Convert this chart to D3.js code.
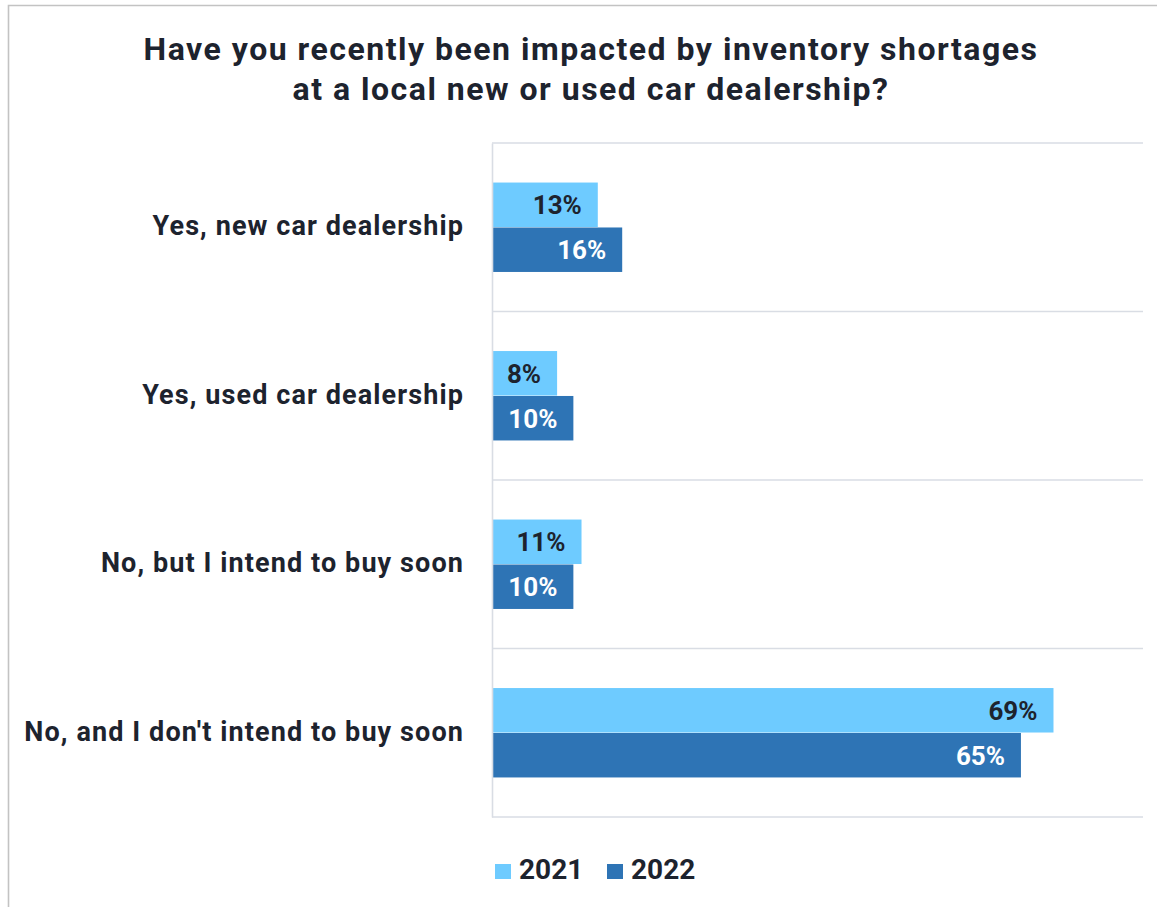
<!DOCTYPE html>
<html>
<head>
<meta charset="utf-8">
<script src="https://cdn.jsdelivr.net/npm/d3@7"></script>
<style>
  html, body { margin: 0; padding: 0; background: #ffffff; }
  svg { display: block; font-family: Roboto, "Noto Sans", sans-serif; }
</style>
</head>
<body>
<svg id="chart" width="1157" height="907"></svg>
<script>
// Survey answers and shares per year (percent)
const categories = [
  "Yes, new car dealership",
  "Yes, used car dealership",
  "No, but I intend to buy soon",
  "No, and I don't intend to buy soon"
];
const years = ["2021", "2022"];
const values2021 = [13, 8, 11, 69];
const values2022 = [16, 10, 10, 65];
const titleLines = [
  "Have you recently been impacted by inventory shortages",
  "at a local new or used car dealership?"
];

const colors = { "2021": "#6ecbff", "2022": "#2e74b5" };
const labelColors = { "2021": "#1d232e", "2022": "#ffffff" };
const textColor = "#1d232e";

const svg = d3.select("#chart");
const W = 1157, H = 907;

// outer frame
svg.append("path")
  .attr("d", `M8.5,${H} L8.5,5.5 L${W},5.5`)
  .attr("fill", "none")
  .attr("stroke", "#c3c3c3")
  .attr("stroke-width", 1.6);

// title
svg.append("g").selectAll("text")
  .data(titleLines)
  .join("text")
  .attr("x", 591)
  .attr("y", (d, i) => 60 + i * 40)
  .attr("text-anchor", "middle")
  .attr("font-size", 32)
  .attr("font-weight", 700)
  .attr("letter-spacing", 1.5)
  .attr("fill", textColor)
  .text(d => d);

const plot = { left: 492, right: 1143, top: 143, bottom: 817 };

const x = d3.scaleLinear().domain([0, 80]).range([plot.left, plot.right]);
const y = d3.scaleBand().domain(categories).range([plot.top, plot.bottom]).paddingInner(0).paddingOuter(0);
const inner = d3.scaleBand().domain(years).range([0, y.bandwidth()]).paddingInner(0.01).paddingOuter(0.88);

// category separators
const seps = d3.range(categories.length + 1).map(i => plot.top + i * y.bandwidth());
svg.append("g").selectAll("line")
  .data(seps)
  .join("line")
  .attr("x1", plot.left).attr("x2", plot.right)
  .attr("y1", d => d).attr("y2", d => d)
  .attr("stroke", "#d9dde4")
  .attr("stroke-width", 1.6);

const rows = categories.map((c, i) => ({
  cat: c,
  items: [
    { year: "2021", value: values2021[i] },
    { year: "2022", value: values2022[i] }
  ]
}));

const groups = svg.append("g").selectAll("g")
  .data(rows)
  .join("g")
  .attr("transform", d => `translate(0,${y(d.cat)})`);

groups.selectAll("rect")
  .data(d => d.items)
  .join("rect")
  .attr("x", x(0))
  .attr("y", d => inner(d.year))
  .attr("width", d => x(d.value) - x(0))
  .attr("height", inner.bandwidth())
  .attr("fill", d => colors[d.year]);

groups.selectAll("text.val")
  .data(d => d.items)
  .join("text")
  .attr("class", "val")
  .attr("x", d => x(d.value) - 16)
  .attr("y", d => inner(d.year) + inner.bandwidth() / 2)
  .attr("dy", "0.36em")
  .attr("text-anchor", "end")
  .attr("font-size", 26)
  .attr("font-weight", 700)
  .attr("fill", d => labelColors[d.year])
  .text(d => d.value + "%");

// vertical axis (no ticks)
const yAxis = d3.axisLeft(y).tickSize(0).tickPadding(28);
const ax = svg.append("g")
  .attr("transform", `translate(${plot.left},0)`)
  .call(yAxis);
ax.select(".domain").attr("stroke", "#d9dde4").attr("stroke-width", 1.6);
ax.selectAll(".tick text")
  .attr("font-family", "Roboto, 'Noto Sans', sans-serif")
  .attr("font-size", 27)
  .attr("font-weight", 700)
  .attr("letter-spacing", 1.1)
  .attr("fill", textColor)
  .attr("dy", "0.3em");

// legend
const legend = svg.append("g").attr("transform", "translate(495,864)");
const legendItems = legend.selectAll("g")
  .data(years)
  .join("g")
  .attr("transform", (d, i) => `translate(${i * 112},0)`);
legendItems.append("rect")
  .attr("width", 16).attr("height", 15)
  .attr("fill", d => colors[d]);
legendItems.append("text")
  .attr("x", 24).attr("y", 15)
  .attr("font-size", 28)
  .attr("font-weight", 700)
  .attr("fill", textColor)
  .text(d => d);
</script>
</body>
</html>
